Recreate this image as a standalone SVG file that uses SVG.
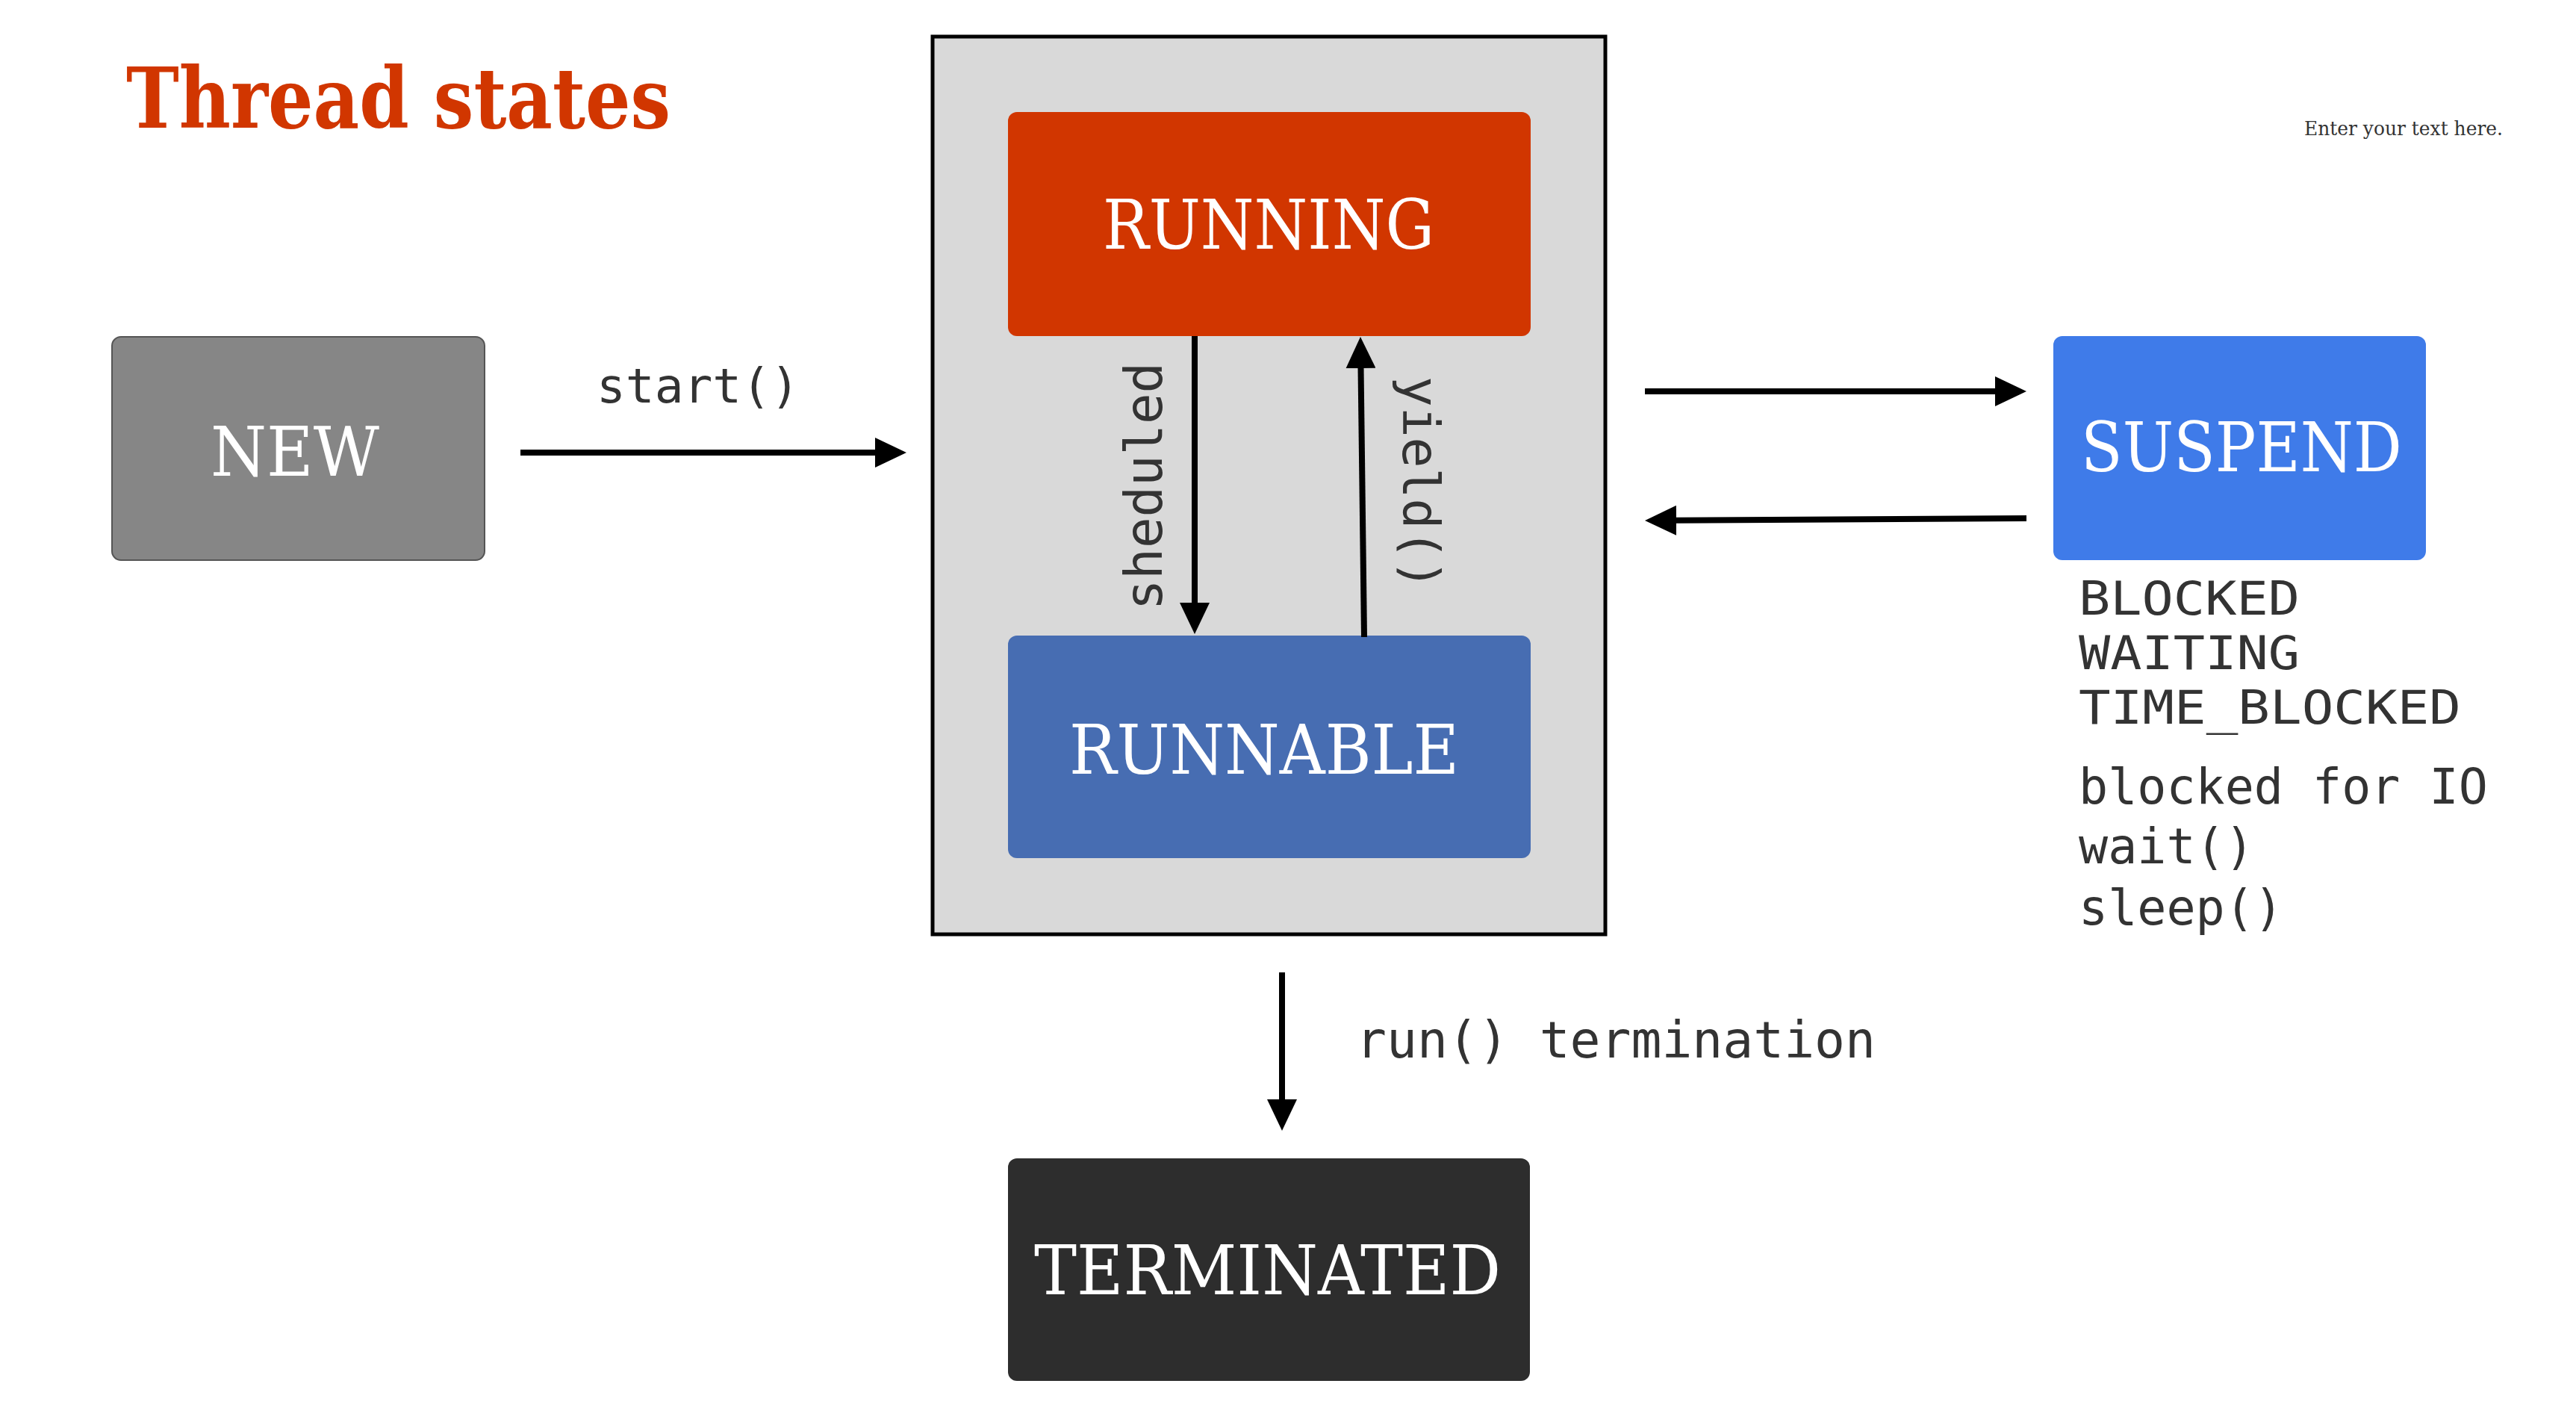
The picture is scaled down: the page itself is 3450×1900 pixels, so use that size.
<svg xmlns="http://www.w3.org/2000/svg" width="3450" height="1900" viewBox="0 0 3450 1900">
<style>
.lbl{font-family:"DejaVu Serif","Liberation Serif",serif;font-size:92px;fill:#ffffff}
.mono{font-family:"DejaVu Sans Mono","Liberation Mono",monospace;fill:#333333}
.conn{stroke:#000;stroke-width:8;fill:none;marker-end:url(#arrow)}
</style>
<defs>
<marker id="arrow" viewBox="0 0 42 40" markerWidth="42" markerHeight="40" refX="1" refY="20" orient="auto" markerUnits="userSpaceOnUse">
<path d="M0,0 L42,20 L0,40 z" fill="#000"/>
</marker>
</defs>
<rect width="3450" height="1900" fill="#ffffff"/>
<text id="title" x="169" y="171" font-family="'DejaVu Serif','Liberation Serif',serif" font-weight="bold" font-size="112" fill="#d13600" textLength="729" lengthAdjust="spacingAndGlyphs">Thread states</text>
<text id="note" x="3086" y="181" font-family="'DejaVu Serif','Liberation Serif',serif" font-size="26" fill="#333333" textLength="266" lengthAdjust="spacingAndGlyphs">Enter your text here.</text>

<g id="container">
<rect x="1249" y="49" width="901" height="1202" fill="#d9d9d9" stroke="#000" stroke-width="5"/>
</g>

<g id="node-new">
<rect x="150" y="451" width="499" height="299" rx="12" fill="#868686" stroke="#555555" stroke-width="2"/>
<text class="lbl" x="282" y="637" textLength="226" lengthAdjust="spacingAndGlyphs">NEW</text>
</g>
<g id="node-running">
<rect x="1350" y="150" width="700" height="300" rx="12" fill="#d13600"/>
<text class="lbl" x="1477" y="333" textLength="444" lengthAdjust="spacingAndGlyphs">RUNNING</text>
</g>
<g id="node-runnable">
<rect x="1350" y="851" width="700" height="298" rx="12" fill="#476db2"/>
<text class="lbl" x="1432" y="1036" textLength="522" lengthAdjust="spacingAndGlyphs">RUNNABLE</text>
</g>
<g id="node-suspend">
<rect x="2750" y="450" width="499" height="300" rx="12" fill="#3f7be9"/>
<text class="lbl" x="2787" y="631" textLength="430" lengthAdjust="spacingAndGlyphs">SUSPEND</text>
</g>
<g id="node-terminated">
<rect x="1350" y="1551" width="699" height="298" rx="12" fill="#2d2d2d"/>
<text class="lbl" x="1385" y="1733" textLength="625" lengthAdjust="spacingAndGlyphs">TERMINATED</text>
</g>

<g id="connectors">
<line class="conn" x1="697" y1="606" x2="1173" y2="606"/>
<line class="conn" x1="1600" y1="450" x2="1600" y2="808"/>
<line class="conn" x1="1827" y1="853" x2="1822.5" y2="492"/>
<line class="conn" x1="2203" y1="524" x2="2673" y2="524"/>
<line class="conn" x1="2714" y1="694" x2="2244" y2="696.8"/>
<line class="conn" x1="1717" y1="1302" x2="1717" y2="1473"/>
</g>

<g id="labels">
<text class="mono" x="799" y="539" font-size="64.5">start()</text>
<text class="mono" font-size="69" text-anchor="middle" transform="translate(1556,651) rotate(-90)">sheduled</text>
<text class="mono" font-size="68" text-anchor="middle" transform="translate(1879,647) rotate(90)">yield()</text>
<text class="mono" x="1816" y="1416" font-size="68">run() termination</text>
<text class="mono" font-size="62" x="2784" y="823" textLength="296" lengthAdjust="spacingAndGlyphs">BLOCKED</text>
<text class="mono" font-size="62" x="2784" y="896" textLength="296" lengthAdjust="spacingAndGlyphs">WAITING</text>
<text class="mono" font-size="62" x="2784" y="969" textLength="512" lengthAdjust="spacingAndGlyphs">TIME_BLOCKED</text>
<text class="mono" font-size="65">
<tspan x="2784" y="1076">blocked for IO</tspan>
<tspan x="2784" y="1156">wait()</tspan>
<tspan x="2784" y="1238">sleep()</tspan>
</text>
</g>
</svg>
